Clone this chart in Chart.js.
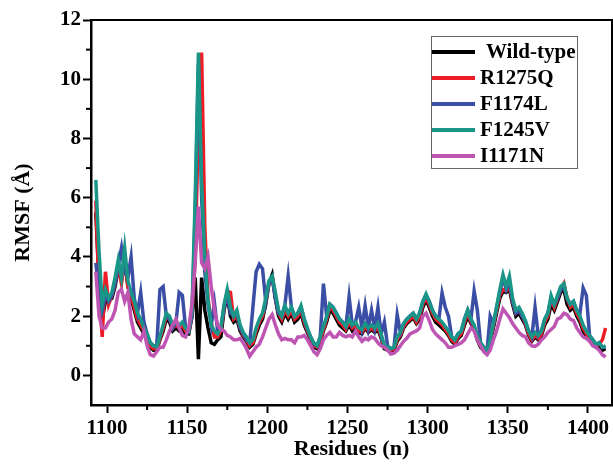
<!DOCTYPE html>
<html>
<head>
<meta charset="utf-8">
<script src="https://cdn.jsdelivr.net/npm/chart.js@4"></script>
<style>
  html, body { margin: 0; padding: 0; background: #fff; }
  #wrap { width: 613px; height: 476px; }
</style>
</head>
<body>
<div id="wrap"><canvas id="rmsf-chart" width="613" height="476"></canvas></div>
<script>
// residue numbers (x), every second residue
let residues = [
  1093,1095,1097,1099,1101,1103,1105,1107,1109,1111,
  1113,1115,1117,1119,1121,1123,1125,1127,1129,1131,
  1133,1135,1137,1139,1141,1143,1145,1147,1149,1151,
  1153,1155,1157,1159,1161,1163,1165,1167,1169,1171,
  1173,1175,1177,1179,1181,1183,1185,1187,1189,1191,
  1193,1195,1197,1199,1201,1203,1205,1207,1209,1211,
  1213,1215,1217,1219,1221,1223,1225,1227,1229,1231,
  1233,1235,1237,1239,1241,1243,1245,1247,1249,1251,
  1253,1255,1257,1259,1261,1263,1265,1267,1269,1271,
  1273,1275,1277,1279,1281,1283,1285,1287,1289,1291,
  1293,1295,1297,1299,1301,1303,1305,1307,1309,1311,
  1313,1315,1317,1319,1321,1323,1325,1327,1329,1331,
  1333,1335,1337,1339,1341,1343,1345,1347,1349,1351,
  1353,1355,1357,1359,1361,1363,1365,1367,1369,1371,
  1373,1375,1377,1379,1381,1383,1385,1387,1389,1391,
  1393,1395,1397,1399,1401,1403,1405,1407,1409,1411
]

let seriesNames = ['Wild-type', 'R1275Q', 'F1174L', 'F1245V', 'I1171N']
let seriesColors = ['#000000', '#ee1c25', '#3a4ea6', '#1a9689', '#bf55b3']

// RMSF values (Å)
let wildType = [
  5.5,3.2,1.9,2.5,2.5,2.6,3.0,3.6,3.2,3.9,
  3.0,2.6,2.2,1.8,1.6,1.4,1.2,0.95,0.85,0.85,
  1.2,1.5,1.9,1.8,1.5,1.6,1.5,1.6,1.4,1.4,
  2.0,3.3,0.55,3.3,2.2,1.6,1.1,1.05,1.2,1.3,
  2.2,2.7,2.0,1.8,1.9,1.5,1.3,1.15,0.95,1.05,
  1.4,1.7,1.9,2.4,3.1,3.4,2.6,2.0,1.8,2.1,
  1.9,2.1,1.8,1.9,2.1,1.7,1.45,1.2,0.95,0.9,
  1.15,1.5,1.8,2.2,2.1,1.9,1.7,1.6,1.5,1.7,
  1.5,1.6,1.45,1.4,1.6,1.45,1.55,1.45,1.55,1.25,
  0.9,0.85,0.8,0.85,1.15,1.3,1.6,1.75,1.85,1.95,
  1.75,1.9,2.3,2.55,2.3,2.0,1.8,1.7,1.6,1.5,
  1.35,1.15,1.05,1.25,1.35,1.7,2.0,1.75,1.55,1.2,
  0.95,0.85,0.75,1.1,1.6,2.1,2.6,2.85,2.8,2.9,
  2.4,2.0,2.1,1.9,1.7,1.35,1.15,1.3,1.2,1.35,
  1.7,1.9,2.4,2.2,2.5,2.8,2.9,2.4,2.2,2.3,
  2.0,1.8,1.5,1.3,1.2,1.05,0.95,1.0,0.85,0.9
]
let r1275q = [
  5.9,2.8,1.3,3.5,2.4,2.7,3.1,3.7,3.1,4.0,
  3.0,2.7,2.3,1.9,1.7,1.5,1.3,1.0,0.9,0.9,
  1.25,1.6,2.0,1.9,1.6,1.7,1.6,1.7,1.5,1.5,
  2.0,4.0,8.5,10.9,5.0,2.6,1.8,1.3,1.3,1.5,
  2.3,2.85,2.8,1.9,2.0,1.6,1.35,1.2,1.0,1.1,
  1.5,1.8,2.0,2.5,3.1,3.3,2.7,2.1,1.9,2.2,
  2.0,2.2,1.9,2.0,2.2,1.8,1.5,1.25,1.0,0.95,
  1.2,1.55,1.9,2.3,2.2,2.0,1.8,1.7,1.55,1.8,
  1.6,1.7,1.5,1.45,1.65,1.5,1.6,1.5,1.65,1.3,
  0.95,0.9,0.85,0.9,1.2,1.35,1.65,1.8,1.9,2.0,
  1.8,2.0,2.4,2.6,2.4,2.1,1.9,1.8,1.7,1.55,
  1.4,1.2,1.1,1.3,1.4,1.8,2.1,1.8,1.6,1.25,
  1.0,0.9,0.8,1.15,1.7,2.2,2.7,2.9,2.85,3.0,
  2.5,2.1,2.2,2.0,1.75,1.4,1.2,1.35,1.25,1.4,
  1.8,2.0,2.6,2.3,2.6,2.9,3.1,2.6,2.3,2.4,
  2.1,1.9,1.6,1.4,1.25,1.1,1.0,1.05,1.2,1.6
]
let f1174l = [
  3.8,2.9,2.2,2.7,2.5,2.7,3.1,3.7,4.3,3.5,
  3.3,4.0,2.6,2.1,2.8,1.8,1.4,1.1,1.0,1.0,
  2.9,3.0,2.0,1.9,1.6,1.8,2.8,2.7,1.6,1.5,
  2.0,5.5,10.5,6.0,3.5,2.4,1.7,2.45,1.5,1.6,
  2.3,2.7,2.1,2.0,2.1,1.6,1.4,1.2,1.1,2.3,
  3.5,3.75,3.6,2.5,3.1,3.3,2.6,2.1,2.0,2.4,
  3.35,2.3,2.0,2.1,2.3,1.9,1.55,1.3,1.05,1.0,
  1.3,3.1,2.0,2.4,2.3,2.1,1.9,1.8,1.65,2.65,
  1.7,1.8,2.3,1.6,2.35,1.6,2.2,1.6,2.3,1.4,
  1.8,1.0,0.9,0.95,2.05,1.45,1.75,1.9,2.0,2.1,
  1.9,2.1,2.5,2.7,2.5,2.2,2.0,1.9,2.78,2.3,
  2.0,1.3,1.2,1.4,1.5,1.9,2.2,1.9,2.85,2.2,
  1.1,0.95,0.8,2.0,1.75,2.3,2.8,3.3,2.9,3.2,
  2.5,2.1,2.2,2.0,1.8,1.5,1.3,2.3,1.35,1.5,
  1.9,2.1,2.6,2.4,2.6,2.9,3.0,2.6,2.4,2.5,
  2.2,2.1,2.95,2.7,1.35,1.2,1.05,1.1,0.95,0.95
]
let f1245v = [
  6.6,4.2,2.4,2.9,2.6,2.8,3.3,3.9,3.3,4.3,
  3.2,2.8,2.5,2.1,1.9,1.6,1.4,1.1,1.0,0.95,
  1.3,1.7,2.1,2.0,1.7,1.8,1.7,1.8,1.6,1.5,
  2.2,6.0,10.9,6.5,4.0,2.5,1.7,1.5,1.4,1.6,
  2.4,2.9,2.3,2.0,2.2,1.7,1.45,1.3,1.1,1.2,
  1.6,1.9,2.1,2.6,3.2,3.35,2.8,2.2,2.0,2.35,
  2.1,2.3,2.0,2.1,2.35,1.9,1.6,1.3,1.1,1.0,
  1.3,1.65,2.0,2.4,2.3,2.1,1.9,1.8,1.65,1.9,
  1.7,1.8,1.6,1.55,1.75,1.6,1.7,1.6,1.75,1.4,
  1.0,0.98,0.9,0.95,1.3,1.45,1.75,1.9,2.0,2.1,
  1.9,2.1,2.5,2.75,2.5,2.2,2.0,1.9,1.8,1.65,
  1.5,1.3,1.2,1.4,1.5,1.9,2.2,1.9,1.7,1.35,
  1.1,0.95,0.8,1.2,1.75,2.3,2.9,3.4,3.0,3.35,
  2.6,2.2,2.3,2.1,1.85,1.5,1.3,1.45,1.35,1.5,
  1.9,2.1,2.7,2.4,2.7,3.0,3.1,2.6,2.4,2.5,
  2.2,2.0,1.7,1.5,1.35,1.2,1.05,1.1,0.95,1.0
]
let i1171n = [
  3.5,2.0,1.6,1.6,1.8,1.9,2.2,2.8,2.9,2.5,
  2.8,1.9,1.4,1.3,1.2,1.5,1.0,0.7,0.65,0.8,
  0.95,0.95,1.2,1.5,1.7,1.9,1.6,1.35,1.3,1.6,
  2.4,3.8,5.7,3.8,3.6,4.0,3.0,2.2,1.7,1.55,
  1.5,1.35,1.3,1.2,1.2,1.25,1.1,0.9,0.65,0.8,
  0.95,1.05,1.3,1.6,1.9,2.05,1.7,1.4,1.2,1.25,
  1.2,1.2,1.1,1.3,1.3,1.35,1.2,1.0,0.8,0.7,
  0.9,1.2,1.35,1.45,1.3,1.3,1.45,1.35,1.3,1.35,
  1.3,1.5,1.3,1.15,1.25,1.2,1.3,1.25,1.1,1.0,
  0.95,0.85,0.72,0.75,0.85,1.0,1.15,1.25,1.4,1.45,
  1.5,1.6,2.0,2.1,1.85,1.55,1.4,1.3,1.2,1.1,
  0.95,0.95,1.0,1.05,1.1,1.2,1.4,1.6,1.5,1.2,
  1.0,0.8,0.7,0.85,1.2,1.5,1.9,2.25,2.1,1.95,
  1.75,1.6,1.45,1.35,1.3,1.1,1.0,0.98,1.05,1.2,
  1.3,1.45,1.55,1.65,1.9,1.95,2.1,2.05,1.9,1.85,
  1.6,1.45,1.3,1.25,1.15,1.0,0.95,0.85,0.7,0.62
]

let seriesValues = [wildType, r1275q, f1174l, f1245v, i1171n]

// tick labels
let xTicks = [1100, 1150, 1200, 1250, 1300, 1350, 1400]
let xMinorTicks = [1125, 1175, 1225, 1275, 1325, 1375]
let yTicks = [0, 2, 4, 6, 8, 10, 12]
let yMinorTicks = [1, 3, 5, 7, 9, 11]

let fontFamily = '"Liberation Serif", "Times New Roman", serif'

// frame (top + right), minor ticks and the boxed legend
let framePlugin = {
    id: 'frame',
    afterDraw(chart) {
        let ctx = chart.ctx
        let area = chart.chartArea
        let xs = chart.scales.x
        let ys = chart.scales.y
        ctx.save()
        ctx.strokeStyle = '#000'
        ctx.lineWidth = 2
        ctx.beginPath()
        ctx.moveTo(area.left, area.top)
        ctx.lineTo(area.right, area.top)
        ctx.lineTo(area.right, area.bottom)
        ctx.stroke()

        ctx.lineWidth = 2
        xMinorTicks.forEach(function(v) {
            let px = xs.getPixelForValue(v)
            ctx.beginPath()
            ctx.moveTo(px, area.bottom)
            ctx.lineTo(px, area.bottom + 5)
            ctx.stroke()
        })
        yMinorTicks.forEach(function(v) {
            let py = ys.getPixelForValue(v)
            ctx.beginPath()
            ctx.moveTo(area.left, py)
            ctx.lineTo(area.left - 5, py)
            ctx.stroke()
        })

        // legend
        ctx.fillStyle = '#fff'
        ctx.fillRect(431, 36, 146, 132)
        ctx.strokeStyle = '#666'
        ctx.lineWidth = 1
        ctx.strokeRect(431.5, 36.5, 146, 132)
        ctx.font = 'bold 21px ' + fontFamily
        ctx.textBaseline = 'middle'
        ctx.textAlign = 'left'
        seriesNames.forEach(function(name, i) {
            let y = 52 + i * 26
            ctx.strokeStyle = seriesColors[i]
            ctx.lineWidth = 4
            ctx.beginPath()
            ctx.moveTo(432, y)
            ctx.lineTo(475, y)
            ctx.stroke()
            ctx.fillStyle = '#000'
            ctx.fillText(name, i === 0 ? 486 : 480, y + 1)
        })
        ctx.restore()
    }
}

let datasets = seriesNames.map(function(name, i) {
    return {
        label: name,
        data: seriesValues[i],
        borderColor: seriesColors[i],
        backgroundColor: seriesColors[i],
        borderWidth: 3.5,
        pointRadius: 0,
        tension: 0,
        fill: false,
        order: seriesNames.length - i   // magenta on top, black underneath
    }
})

let ctx = document.querySelector('#rmsf-chart').getContext('2d')

let rmsfChart = new Chart(ctx, {
    type: 'line',
    data: {
        labels: residues,
        datasets: datasets
    },
    options: {
        responsive: false,
        animation: false,
        events: [],
        layout: { padding: { top: 20, right: 1, left: 0, bottom: 0 } },
        plugins: {
            legend: { display: false },
            tooltip: { enabled: false }
        },
        scales: {
            x: {
                type: 'linear',
                min: 1090,
                max: 1415,
                afterBuildTicks: function(scale) {
                    scale.ticks = xTicks.map(v => ({ value: v }))
                },
                afterFit: function(scale) { scale.height = 71 },
                grid: {
                    drawOnChartArea: false,
                    drawTicks: true,
                    tickLength: 8,
                    tickColor: '#000',
                    tickWidth: 2
                },
                border: { display: true, color: '#000', width: 2.5 },
                ticks: {
                    color: '#000',
                    padding: 3,
                    maxRotation: 0,
                    callback: function(value) { return String(value) },
                    font: { family: fontFamily, size: 21, weight: 'bold' }
                },
                title: {
                    display: true,
                    text: 'Residues (n)',
                    color: '#000',
                    padding: { top: 0, bottom: 13 },
                    font: { family: fontFamily, size: 22, weight: 'bold' }
                }
            },
            y: {
                type: 'linear',
                min: -1,
                max: 12,
                afterBuildTicks: function(scale) {
                    scale.ticks = yTicks.map(v => ({ value: v }))
                },
                afterFit: function(scale) { scale.width = 91 },
                grid: {
                    drawOnChartArea: false,
                    drawTicks: true,
                    tickLength: 8,
                    tickColor: '#000',
                    tickWidth: 2
                },
                border: { display: true, color: '#000', width: 2.5 },
                ticks: {
                    color: '#000',
                    padding: 2,
                    font: { family: fontFamily, size: 21, weight: 'bold' }
                },
                title: {
                    display: true,
                    text: 'RMSF (Å)',
                    color: '#000',
                    padding: { top: 10, bottom: 0 },
                    font: { family: fontFamily, size: 22, weight: 'bold' }
                }
            }
        }
    },
    plugins: [framePlugin]
})
</script>
</body>
</html>
